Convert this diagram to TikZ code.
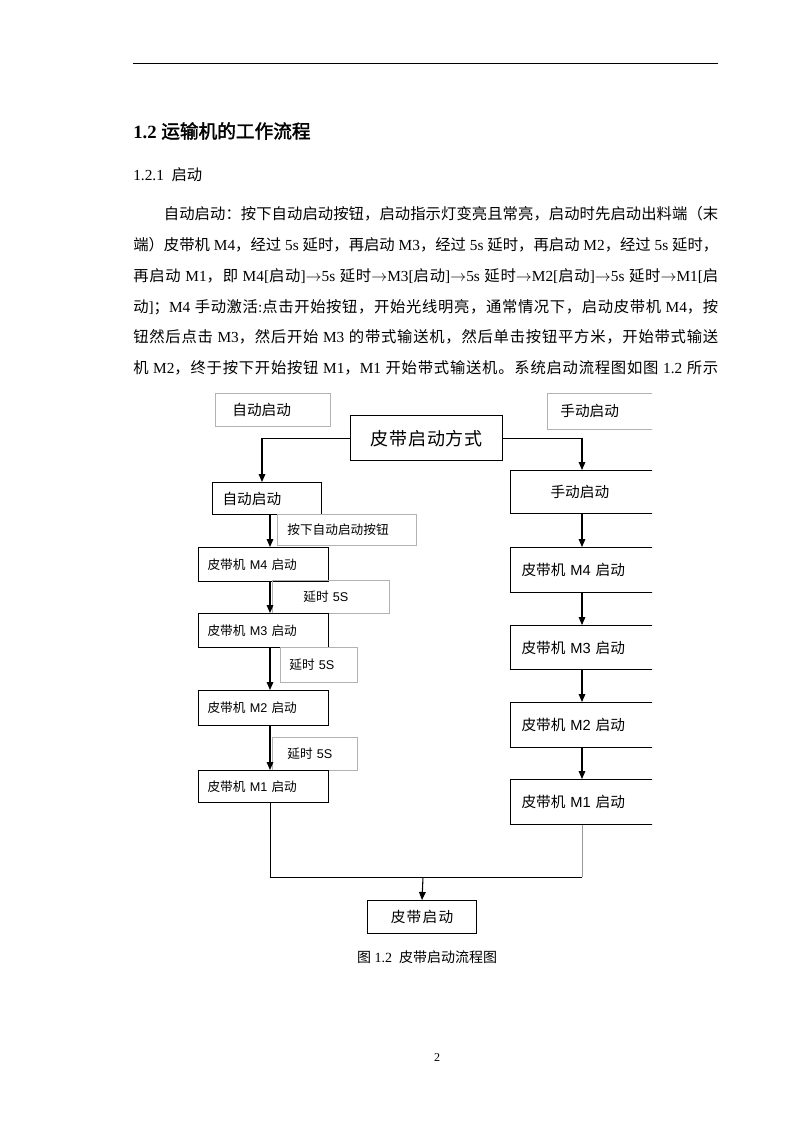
\documentclass[tikz,border=0pt]{standalone}
\usepackage{fontspec}
\setmainfont{Liberation Serif}
\setsansfont{Liberation Sans}
\newfontfamily\cjk{Noto Sans CJK SC}[AutoFakeBold=2]
\usetikzlibrary{arrows.meta}
% CJK characters switch to the CJK font by themselves
\XeTeXinterchartokenstate=1
\newXeTeXintercharclass\cjkcls
\makeatletter
\def\setcjkrange#1#2{\count@=#1\relax
  \loop\XeTeXcharclass\count@=\cjkcls
  \ifnum\count@<#2\relax\advance\count@\@ne\repeat}
\setcjkrange{"3000}{"303F}
\setcjkrange{"4E00}{"9FFF}
\setcjkrange{"FF00}{"FFEF}
\makeatother
\XeTeXinterchartoks 0 \cjkcls = {\begingroup\cjk}
\XeTeXinterchartoks 4095 \cjkcls = {\begingroup\cjk}
\XeTeXinterchartoks \cjkcls 0 = {\endgroup}
\XeTeXinterchartoks \cjkcls 4095 = {\endgroup}
\XeTeXinterchartoks \cjkcls \cjkcls = {\nobreak\hskip0pt plus 1.5pt minus 0.5pt\relax}
\newcommand\toarr{\ensuremath{\rightarrow}}
\tikzset{
  tag/.style={draw=black!30, line width=0.5pt, anchor=north west, inner ysep=0pt,
    align=left, font=\sffamily\fontsize{9.5}{11}\selectfont},
  stepbox/.style={draw, line width=0.8pt, anchor=north west, inner ysep=0pt,
    align=left, font=\sffamily\fontsize{9.5}{11}\selectfont},
  leftbox/.style={stepbox, minimum width=97.5pt, inner xsep=6.75pt, text width=84pt},
  rightbox/.style={stepbox, minimum width=150pt, minimum height=33.75pt, inner xsep=8.25pt,
    text width=133.5pt, font=\sffamily\fontsize{11}{13}\selectfont},
  para/.style={anchor=west, inner sep=0pt, font=\fontsize{11.5}{14}\selectfont},
  arr/.style={-{Triangle[width=5pt,length=6pt]}, line width=0.8pt}
}
\begin{document}
\begin{tikzpicture}[x=0.75pt,y=-0.75pt]
\path[fill=white] (0,0) rectangle (793,1122);
\draw[line width=0.75pt] (133,63) -- (718,63);
\node[para, font=\bfseries\fontsize{14}{16}\selectfont] (title) at (133,131) {1.2 运输机的工作流程};
\node[para] (sub) at (133,175) {1.2.1\ \ 启动};
\node[para] (l1) at (133,214) {\hbox to 438.75pt{\hspace*{23pt}自动启动：按下自动启动按钮，启动指示灯变亮且常亮，启动时先启动出料端（末}};
\node[para] (l2) at (133,245) {\hbox to 438.75pt{端）皮带机 M4，经过 5s 延时，再启动 M3，经过 5s 延时，再启动 M2，经过 5s 延时，}};
\node[para] (l3) at (133,276) {\hbox to 438.75pt{再启动 M1，即 M4[启动]\toarr 5s 延时\toarr M3[启动]\toarr 5s 延时\toarr M2[启动]\toarr 5s 延时\toarr M1[启}};
\node[para] (l4) at (133,307) {\hbox to 438.75pt{动]；M4 手动激活:点击开始按钮，开始光线明亮，通常情况下，启动皮带机 M4，按}};
\node[para] (l5) at (133,337) {\hbox to 438.75pt{钮然后点击 M3，然后开始 M3 的带式输送机，然后单击按钮平方米，开始带式输送}};
\node[para] (l6) at (133,368) {\hbox to 438.75pt{机 M2，终于按下开始按钮 M1，M1 开始带式输送机。系统启动流程图如图 1.2 所示}};

\node[tag, minimum width=86.25pt, minimum height=24.75pt, inner xsep=12.75pt, text width=60.75pt,
  font=\sffamily\fontsize{11}{13}\selectfont] (lblauto) at (215,393) {自动启动};
\node[stepbox, line width=1pt, minimum width=114pt, minimum height=33.75pt, inner xsep=4pt, text width=106pt,
  align=center, font=\sffamily\fontsize{13.5}{15}\selectfont] (mode) at (350,415) {皮带启动方式};
\node[stepbox, minimum width=81.75pt, minimum height=24pt, inner xsep=7.5pt, text width=66.75pt,
  font=\sffamily\fontsize{11}{13}\selectfont] (autostart) at (212,482) {自动启动};
\node[tag, minimum width=104.25pt, minimum height=23.25pt, inner xsep=7.5pt, text width=89.25pt] (lblpress) at (277,514) {按下自动启动按钮};
\node[leftbox, minimum height=25.5pt] (m4l) at (198,547) {皮带机 M4 启动};
\node[tag, minimum width=87.75pt, minimum height=24.75pt, inner xsep=23.25pt, text width=41.25pt] (d1) at (272,580) {延时 5S};
\node[leftbox, minimum height=25.5pt] (m3l) at (198,613) {皮带机 M3 启动};
\node[tag, minimum width=57.75pt, minimum height=26.25pt, inner xsep=6.75pt, text width=44.25pt] (d2) at (280,647) {延时 5S};
\node[leftbox, minimum height=26.25pt] (m2l) at (198,690) {皮带机 M2 启动};
\node[tag, minimum width=63.75pt, minimum height=24.75pt, inner xsep=11.25pt, text width=41.25pt] (d3) at (272,737) {延时 5S};
\node[leftbox, minimum height=24pt] (m1l) at (198,770) {皮带机 M1 启动};

\begin{scope}
\clip (0,0) rectangle (652,1122);
\node[tag, minimum width=150pt, minimum height=27pt, inner xsep=9.75pt, text width=130.5pt,
  font=\sffamily\fontsize{11}{13}\selectfont] (lblhand) at (547,393) {手动启动};
\node[stepbox, minimum width=150pt, minimum height=32.25pt, inner xsep=30pt, text width=90pt,
  font=\sffamily\fontsize{11}{13}\selectfont] (handstart) at (510,470) {手动启动};
\node[rightbox] (m4r) at (510,547) {皮带机 M4 启动};
\node[rightbox, minimum height=33pt] (m3r) at (510,625) {皮带机 M3 启动};
\node[rightbox] (m2r) at (510,702) {皮带机 M2 启动};
\node[rightbox] (m1r) at (510,779) {皮带机 M1 启动};
\end{scope}

\node[stepbox, minimum width=81.75pt, minimum height=24.75pt, inner xsep=4pt, text width=73.75pt,
  align=center, font=\sffamily\fontsize{11}{13}\selectfont] (belt) at (367,900) {皮带启动};

\coordinate (tl) at (262,0);
\coordinate (lx) at (270,0);
\coordinate (rx) at (582,0);
\coordinate (join) at (423,877);
\coordinate (rjoin) at (582,877);
\draw[arr] (mode.west) -| (tl |- autostart.north);
\draw[arr] (mode.east) -| (rx |- handstart.north);
\foreach \a/\b in {autostart/m4l, m4l/m3l, m3l/m2l, m2l/m1l}
  \draw[arr] (lx |- \a.south) -- (lx |- \b.north);
\foreach \a/\b in {handstart/m4r, m4r/m3r, m3r/m2r, m2r/m1r}
  \draw[arr] (rx |- \a.south) -- (rx |- \b.north);
\draw[line width=0.5pt, black!40] (rx |- m1r.south) -- (rjoin);
\draw[line width=0.6pt] (lx |- m1l.south) |- (rjoin);
\draw[arr] (join) -- (belt.north);

\node[font=\fontsize{10.5}{12}\selectfont] (cap) at (427,957) {图 1.2\ \ 皮带启动流程图};
\node[font=\fontsize{9}{10}\selectfont] (pg) at (437,1058) {2};
\end{tikzpicture}
\end{document}
